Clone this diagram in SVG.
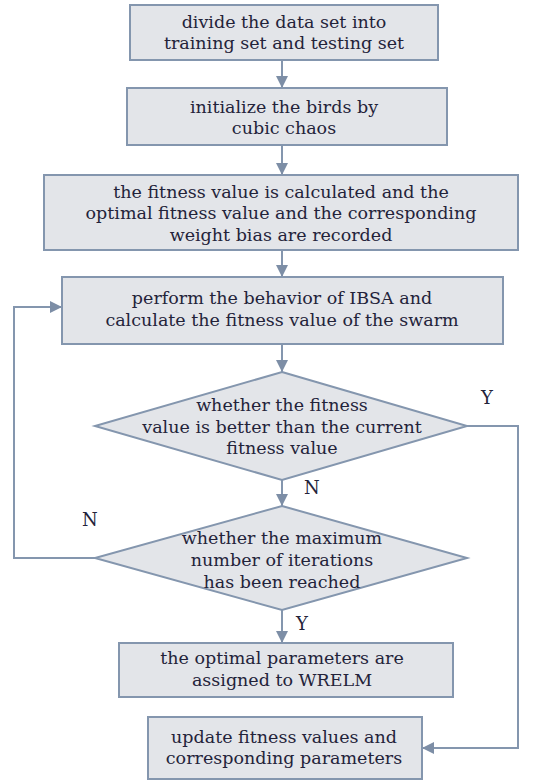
<svg xmlns="http://www.w3.org/2000/svg" width="536" height="781" viewBox="0 0 536 781">
<defs>
<marker id="ah" markerWidth="12" markerHeight="12" viewBox="0 0 12 12" refX="12" refY="6" orient="auto" markerUnits="userSpaceOnUse">
<path d="M0,0 L12,6 L0,12 Z" fill="#7d8ea6"/>
</marker>
<style>
.box{fill:#e3e5e9;stroke:#8496ae;stroke-width:2}
.t{font-family:"DejaVu Serif","Liberation Serif",serif;font-size:17.5px;fill:#23233a;text-anchor:middle}
.l{font-family:"DejaVu Serif","Liberation Serif",serif;font-size:18px;fill:#23233a}
.c{fill:none;stroke:#8496ae;stroke-width:2;marker-end:url(#ah)}
</style>
</defs>
<rect width="536" height="781" fill="#ffffff"/>
<g id="connectors">
<line class="c" x1="282" y1="60" x2="282" y2="88"/>
<line class="c" x1="282" y1="145" x2="282" y2="175"/>
<line class="c" x1="282" y1="250" x2="282" y2="277"/>
<line class="c" x1="282" y1="344" x2="282" y2="372"/>
<line class="c" x1="282" y1="480" x2="282" y2="506"/>
<line class="c" x1="282" y1="610" x2="282" y2="643"/>
<polyline class="c" points="95,558 14,558 14,307 62,307"/>
<polyline class="c" points="467,426 518,426 518,748 422,748"/>
</g>
<g id="n1"><rect class="box" x="130" y="5" width="308" height="55"/>
<text class="t" x="284" y="28">divide the data set into</text>
<text class="t" x="284" y="49">training set and testing set</text></g>
<g id="n2"><rect class="box" x="127" y="88" width="320" height="57"/>
<text class="t" x="284" y="113">initialize the birds by</text>
<text class="t" x="284" y="134">cubic chaos</text></g>
<g id="n3"><rect class="box" x="44" y="175" width="474" height="75"/>
<text class="t" x="281" y="198">the fitness value is calculated and the</text>
<text class="t" x="281" y="219">optimal fitness value and the corresponding</text>
<text class="t" x="281" y="241">weight bias are recorded</text></g>
<g id="n4"><rect class="box" x="62" y="277" width="441" height="67"/>
<text class="t" x="282" y="304">perform the behavior of IBSA and</text>
<text class="t" x="282" y="326">calculate the fitness value of the swarm</text></g>
<g id="n5"><polygon class="box" points="282,372 467,426 282,480 95,426"/>
<text class="t" x="282" y="411">whether the fitness</text>
<text class="t" x="282" y="433">value is better than the current</text>
<text class="t" x="282" y="454">fitness value</text></g>
<g id="n6"><polygon class="box" points="282,506 467,558 282,610 95,558"/>
<text class="t" x="282" y="544">whether the maximum</text>
<text class="t" x="282" y="566">number of iterations</text>
<text class="t" x="282" y="588">has been reached</text></g>
<g id="n7"><rect class="box" x="119" y="643" width="334" height="54"/>
<text class="t" x="282" y="664">the optimal parameters are</text>
<text class="t" x="282" y="686">assigned to WRELM</text></g>
<g id="n8"><rect class="box" x="148" y="717" width="274" height="62"/>
<text class="t" x="284" y="743">update fitness values and</text>
<text class="t" x="284" y="764">corresponding parameters</text></g>
<g id="labels">
<text class="l" x="481" y="404">Y</text>
<text class="l" x="304" y="494">N</text>
<text class="l" x="82" y="526">N</text>
<text class="l" x="296" y="630">Y</text>
</g>
</svg>
